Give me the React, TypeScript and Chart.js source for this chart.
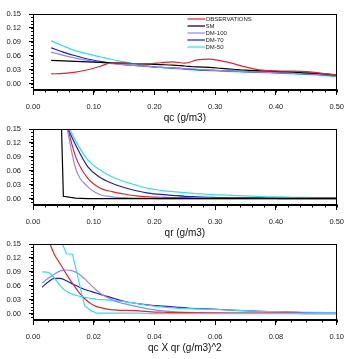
import React, { useEffect, useRef } from "react";
import { Chart, registerables } from "chart.js";

Chart.register(...registerables);

const FONT = "'Liberation Sans', Arial, Helvetica, sans-serif";

// Legend entries and colours
const seriesNames = ["OBSERVATIONS", "SM", "DM-100", "DM-70", "DM-50"];
const seriesColors = ["#e3262b", "#000000", "#9486ee", "#1c1ccc", "#2de2ee"];

// Tick labels
const yTicks = [0, 0.03, 0.06, 0.09, 0.12, 0.15];
const qTicks = [0, 0.1, 0.2, 0.3, 0.4, 0.5];
const prodTicks = [0, 0.02, 0.04, 0.06, 0.08, 0.1];

// ---- qc (g/m3) ----
const qcBins = [0.03, 0.05, 0.07, 0.09, 0.11, 0.13, 0.15, 0.17, 0.19, 0.21, 0.23, 0.25, 0.27, 0.29, 0.31, 0.33, 0.35, 0.37, 0.39, 0.41, 0.43, 0.45, 0.47, 0.49, 0.51];
const obsQc = [0.021, 0.022, 0.025, 0.03, 0.037, 0.045, 0.044, 0.043, 0.043, 0.045, 0.047, 0.044, 0.051, 0.053, 0.049, 0.043, 0.036, 0.03, 0.028, 0.027, 0.027, 0.026, 0.023, 0.02, 0.018];
const smQc = [0.05, 0.049, 0.048, 0.047, 0.046, 0.045, 0.044, 0.043, 0.042, 0.041, 0.04, 0.038, 0.036, 0.035, 0.033, 0.031, 0.029, 0.028, 0.027, 0.026, 0.025, 0.023, 0.022, 0.02, 0.019];
const dm100Qc = [0.068, 0.061, 0.055, 0.05, 0.046, 0.043, 0.041, 0.039, 0.037, 0.035, 0.034, 0.032, 0.031, 0.029, 0.028, 0.027, 0.026, 0.025, 0.024, 0.023, 0.022, 0.021, 0.02, 0.019, 0.018];
const dm70Qc = [0.077, 0.068, 0.06, 0.053, 0.048, 0.044, 0.041, 0.039, 0.037, 0.035, 0.034, 0.032, 0.03, 0.029, 0.028, 0.027, 0.026, 0.025, 0.024, 0.023, 0.022, 0.021, 0.02, 0.018, 0.017];
const dm50Qc = [0.092, 0.081, 0.071, 0.064, 0.058, 0.052, 0.047, 0.042, 0.038, 0.035, 0.033, 0.031, 0.029, 0.028, 0.027, 0.026, 0.025, 0.024, 0.023, 0.022, 0.021, 0.02, 0.018, 0.016, 0.015];

// ---- qr (g/m3) ----
const qrBins = qcBins;
const obsQr = [null, 0.19, 0.091, 0.044, 0.023, 0.015, 0.01, 0.006, 0.004, 0.003, 0.002, 0.002, 0.001, 0.001, 0.001, 0.001, 0.001, 0.001, 0.001, 0, 0, 0, 0, 0, 0];
const smQr = [0.97, 0.005, 0.001, 0, 0, 0, 0, 0, 0, 0, 0, 0, 0, 0, 0, 0, 0, 0, 0, 0, 0, 0, 0, 0, 0];
const dm100Qr = [null, 0.195, 0.066, 0.026, 0.009, 0.004, 0.002, 0.001, 0.001, 0, 0, 0, 0, 0, 0, 0, 0, 0, 0, 0, 0, 0, 0, 0, 0];
const dm70Qr = [null, 0.173, 0.116, 0.069, 0.046, 0.033, 0.024, 0.017, 0.012, 0.009, 0.007, 0.005, 0.004, 0.003, 0.002, 0.002, 0.002, 0.002, 0.001, 0.001, 0.001, 0.001, 0.001, 0.001, 0.001];
const dm50Qr = [null, 0.18, 0.125, 0.084, 0.062, 0.047, 0.037, 0.029, 0.022, 0.018, 0.015, 0.013, 0.011, 0.009, 0.008, 0.007, 0.006, 0.005, 0.004, 0.004, 0.003, 0.003, 0.002, 0.002, 0.002];

// ---- qc X qr (g/m3)^2 ----
const prodBins = [0.003, 0.005, 0.007, 0.009, 0.011, 0.013, 0.015, 0.017, 0.019, 0.021, 0.023, 0.025, 0.027, 0.029, 0.031, 0.035, 0.039, 0.043, 0.047, 0.051, 0.059, 0.067, 0.075, 0.083, 0.091, 0.099, 0.107];
const obsProd = [0.19, 0.16, 0.128, 0.107, 0.085, 0.065, 0.047, 0.032, 0.022, 0.015, 0.012, 0.009, 0.008, 0.007, 0.007, 0.006, 0.004, 0.003, 0.002, 0.002, 0.001, 0.001, 0.001, 0.001, 0, 0, 0];
const dm100Prod = [0.066, 0.076, 0.085, 0.092, 0.094, 0.092, 0.086, 0.075, 0.062, 0.05, 0.04, 0.033, 0.027, 0.023, 0.02, 0.014, 0.009, 0.006, 0.004, 0.003, 0.002, 0.001, 0.001, 0.001, 0.001, 0.001, 0.001];
const dm70Prod = [0.057, 0.068, 0.076, 0.076, 0.071, 0.064, 0.058, 0.052, 0.048, 0.044, 0.04, 0.036, 0.032, 0.028, 0.025, 0.021, 0.018, 0.016, 0.014, 0.012, 0.01, 0.007, 0.005, 0.004, 0.002, 0.001, 0.001];
const dm50Prod = [0.09, 0.089, 0.077, 0.06, 0.048, 0.042, 0.038, 0.035, 0.033, 0.031, 0.03, 0.029, 0.028, 0.027, 0.025, 0.021, 0.017, 0.014, 0.012, 0.011, 0.009, 0.007, 0.005, 0.004, 0.003, 0.002, 0.002];
const dm50BinProd = [null, null, null, 0.161, 0.129, 0.128, 0.072, 0.017, 0.007, 0.001, 0.001, 0.001, 0.001, 0.001, 0.001, 0.001, 0, 0, 0, 0, 0, 0, 0, 0, 0, 0, 0];

type Series = { label: string; color: string; values: (number | null)[]; smooth?: boolean };
type PanelSpec = {
  bins: number[];
  series: Series[];
  xMax: number;
  xTicks: number[];
  xMinor: number;
  title: string;
  legend: boolean;
};

const Y_MIN = -0.0137;
const Y_MAX = 0.15;
const Y_MINOR = 0.0075;

const s = (i: number, values: (number | null)[], smooth = true): Series => ({
  label: seriesNames[i],
  color: seriesColors[i],
  values,
  smooth,
});

const panels: PanelSpec[] = [
  {
    bins: qcBins,
    series: [s(0, obsQc), s(1, smQc), s(2, dm100Qc), s(3, dm70Qc), s(4, dm50Qc)],
    xMax: 0.5,
    xTicks: qTicks,
    xMinor: 0.02,
    title: "qc (g/m3)",
    legend: true,
  },
  {
    bins: qrBins,
    series: [s(1, smQr, false), s(2, dm100Qr), s(0, obsQr), s(3, dm70Qr), s(4, dm50Qr)],
    xMax: 0.5,
    xTicks: qTicks,
    xMinor: 0.02,
    title: "qr (g/m3)",
    legend: false,
  },
  {
    bins: prodBins,
    series: [s(4, dm50BinProd, false), s(0, obsProd), s(2, dm100Prod), s(4, dm50Prod), s(3, dm70Prod)],
    xMax: 0.1,
    xTicks: prodTicks,
    xMinor: 0.005,
    title: "qc X qr (g/m3)^2",
    legend: false,
  },
];

function makeFramePlugin(spec: PanelSpec) {
  return {
    id: "frameAndMinorTicks",
    afterDraw(chart: any) {
      const { ctx, chartArea } = chart;
      const { left, top, right, bottom } = chartArea;
      const xs = chart.scales.x;
      const ys = chart.scales.y;
      const L = Math.round(left) + 0.5;
      const R = Math.round(right) - 0.5;
      const T = Math.round(top) + 0.5;
      const B = Math.round(bottom) - 0.5;
      ctx.save();
      ctx.strokeStyle = "#000";
      ctx.lineWidth = 1;
      ctx.strokeRect(L, T, R - L, B - T);

      ctx.beginPath();
      const nx = Math.floor(xs.max / spec.xMinor + 1e-6);
      for (let k = 0; k <= nx; k++) {
        const px = Math.round(xs.getPixelForValue(k * spec.xMinor)) + 0.5;
        ctx.moveTo(px, B);
        ctx.lineTo(px, B + 3);
      }
      const k0 = Math.ceil(ys.min / Y_MINOR - 1e-6);
      const k1 = Math.floor(ys.max / Y_MINOR + 1e-6);
      for (let k = k0; k <= k1; k++) {
        const py = Math.round(ys.getPixelForValue(k * Y_MINOR)) + 0.5;
        ctx.moveTo(L, py);
        ctx.lineTo(L - 2.5, py);
      }
      ctx.stroke();

      if (spec.legend) {
        ctx.font = `6px ${FONT}`;
        ctx.textBaseline = "middle";
        ctx.textAlign = "left";
        chart.data.datasets.forEach((ds: any, i: number) => {
          const y = top + 5 + i * 7;
          const x0 = left + 154.5;
          ctx.strokeStyle = ds.borderColor;
          ctx.lineWidth = 1.2;
          ctx.beginPath();
          ctx.moveTo(x0, y);
          ctx.lineTo(x0 + 17.5, y);
          ctx.stroke();
          ctx.fillStyle = "#222";
          ctx.fillText(ds.label, x0 + 18, y);
        });
      }
      ctx.restore();
    },
  };
}

function makeChart(canvas: HTMLCanvasElement, spec: PanelSpec) {
  return new Chart(canvas, {
    type: "line",
    data: {
      datasets: spec.series.map((ser) => ({
        label: ser.label,
        data: spec.bins.map((x, i) => ({ x, y: ser.values[i] })),
        borderColor: ser.color,
        backgroundColor: ser.color,
        borderWidth: 1.2,
        pointRadius: 0,
        fill: false,
        tension: 0,
        cubicInterpolationMode: ser.smooth ? "monotone" : "default",
      })),
    },
    options: {
      animation: false,
      responsive: false,
      devicePixelRatio: 1,
      events: [],
      layout: { padding: { top: 14, right: 12, left: 0, bottom: 0 } },
      plugins: {
        legend: { display: false },
        tooltip: { enabled: false },
      },
      scales: {
        x: {
          type: "linear",
          min: 0,
          max: spec.xMax,
          afterBuildTicks: (ax: any) => {
            ax.ticks = spec.xTicks.map((value) => ({ value }));
          },
          afterFit: (ax: any) => {
            ax.height = 38;
          },
          grid: { drawOnChartArea: false, drawTicks: true, tickLength: 5, color: "#000", lineWidth: 1 },
          border: { display: true, color: "#000", width: 1 },
          ticks: {
            padding: 7,
            autoSkip: false,
            maxRotation: 0,
            color: "#222",
            font: { family: FONT, size: 7.5 },
            callback: (v: any) => Number(v).toFixed(2),
          },
          title: {
            display: true,
            text: spec.title,
            color: "#111",
            font: { family: FONT, size: 10 },
            padding: { top: 0, bottom: 3.5 },
          },
        },
        y: {
          type: "linear",
          min: Y_MIN,
          max: Y_MAX,
          afterBuildTicks: (ax: any) => {
            ax.ticks = yTicks.map((value) => ({ value }));
          },
          afterFit: (ax: any) => {
            ax.width = 33;
          },
          grid: { drawOnChartArea: false, drawTicks: true, tickLength: 4, color: "#000", lineWidth: 1 },
          border: { display: true, color: "#000", width: 1 },
          ticks: {
            padding: 8,
            autoSkip: false,
            color: "#222",
            font: { family: FONT, size: 7.5 },
            callback: (v: any) => Number(v).toFixed(2),
          },
        },
      },
    } as any,
    plugins: [makeFramePlugin(spec)],
  });
}

function Panel({ spec, top }: { spec: PanelSpec; top: number }) {
  const ref = useRef<HTMLCanvasElement>(null);
  useEffect(() => {
    const chart = makeChart(ref.current as HTMLCanvasElement, spec);
    return () => chart.destroy();
  }, [spec]);
  return (
    <canvas
      ref={ref}
      width={351}
      height={128}
      style={{ position: "absolute", left: 0, top, width: 351, height: 128 }}
    />
  );
}

export default function App() {
  return (
    <div style={{ position: "absolute", left: 0, top: 0, width: 351, height: 359, background: "#fff", overflow: "hidden" }}>
      {panels.map((p, i) => (
        <Panel key={i} spec={p} top={i * 115} />
      ))}
    </div>
  );
}
